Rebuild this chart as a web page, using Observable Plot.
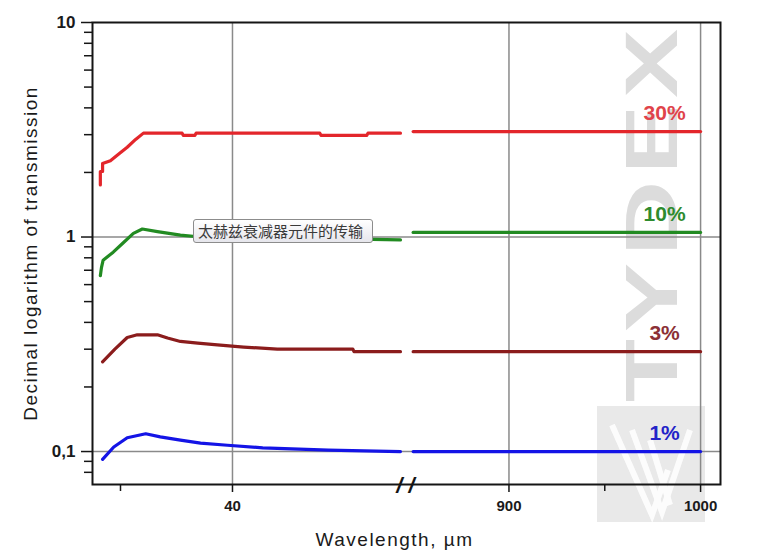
<!DOCTYPE html>
<html>
<head>
<meta charset="utf-8">
<script src="https://cdn.jsdelivr.net/npm/d3@7"></script>
<script src="https://cdn.jsdelivr.net/npm/@observablehq/plot@0.6"></script>
<style>
  html, body { margin: 0; padding: 0; background: #fff; }
  #wrap { position: relative; width: 768px; height: 560px; overflow: hidden; font-family: "Liberation Sans", Arial, sans-serif; }
  #bg { position: absolute; left: 0; top: 0; z-index: 0; }
  #chart { position: absolute; left: 0; top: 0; z-index: 1; }
  #tip { position: absolute; left: 193px; top: 219px; width: 174px; height: 22px; z-index: 2;
         border: 1px solid #8c8c8c; border-radius: 3px; box-sizing: content-box;
         background: linear-gradient(#ffffff, #e6e6ec); color: #3a3a3a;
         font: 15px "Noto Sans CJK SC", sans-serif; line-height: 22px; padding-left: 4px; white-space: nowrap; }
</style>
</head>
<body>
<div id="wrap">
  <svg id="bg" width="768" height="560">
    <rect x="597" y="406" width="108" height="116" fill="#e9e9e9"></rect>
    <g stroke="#ffffff" stroke-width="6" fill="none" opacity="0.9">
      <polyline points="612,425 652,515 668,470"></polyline>
      <polyline points="632,430 662,512 690,430"></polyline>
      <polyline points="650,440 670,505"></polyline>
    </g>
    <g transform="translate(652,212) rotate(-90) scale(1.4,1)">
      <text text-anchor="middle" dominant-baseline="central"
          font-family="Liberation Sans, Arial, sans-serif" font-weight="bold" font-size="74" letter-spacing="5" fill="#dcdcdc">TYDEX</text>
    </g>
  </svg>
  <div id="chart"></div>
  <div id="tip">太赫兹衰减器元件的传输</div>
</div>
<script>
// ---- data (wavelength in µm, decimal logarithm of transmission axis values) ----
const series = ["30%", "10%", "3%", "1%"];
const lineColors = ["#e3262b", "#228b22", "#8b1c1c", "#1414e6"];
const labelColors = ["#e0434a", "#2e8b2e", "#8b3036", "#2323c8"];

const red30Left = [[16.4,1.75],[16.4,2.02],[16.8,2.02],[16.8,2.2],[18.2,2.27],[19.8,2.45],[21.2,2.62],[22.7,2.85],[24.1,3.05],[31.0,3.05],[31.2,2.98],[33.3,2.98],[33.5,3.05],[55.6,3.05],[55.8,2.98],[64.0,2.98],[64.2,3.05],[70.0,3.05]];
const red30Right = [[850,3.1],[1000,3.1]];
const green10Left = [[16.4,0.66],[16.6,0.72],[16.9,0.78],[18.7,0.85],[20.5,0.94],[22.3,1.04],[23.9,1.09],[26.6,1.06],[30.7,1.02],[34.3,1.0],[45.0,0.99],[60.0,0.98],[70.0,0.97]];
const green10Right = [[850,1.05],[1000,1.05]];
const maroon3Left = [[16.8,0.262],[19.0,0.30],[21.2,0.34],[23.0,0.35],[26.6,0.35],[28.4,0.338],[30.7,0.326],[33.8,0.32],[37.3,0.314],[42.0,0.307],[48.0,0.30],[61.5,0.30],[61.7,0.292],[70.0,0.292]];
const maroon3Right = [[850,0.292],[1000,0.292]];
const blue1Left = [[16.8,0.092],[18.8,0.105],[21.2,0.116],[24.5,0.121],[27.1,0.117],[30.7,0.113],[34.3,0.1095],[39.1,0.107],[45.4,0.104],[57.1,0.1016],[70.0,0.1]];
const blue1Right = [[850,0.1],[1000,0.1]];

const segments = [
  ["30%", red30Left], ["30%", red30Right],
  ["10%", green10Left], ["10%", green10Right],
  ["3%", maroon3Left], ["3%", maroon3Right],
  ["1%", blue1Left], ["1%", blue1Right]
];
const labelValues = [3.1, 1.05, 0.292, 0.1];

const yMajorTicks = [0.1, 1, 10];
const yMinorTicks = [0.08, 0.09, 0.2, 0.3, 0.4, 0.5, 0.6, 0.7, 0.8, 0.9, 2, 3, 4, 5, 6, 7, 8, 9];
const xMajorTicks = [40, 900, 1000];
const xMinorTicks = [20, 950];
const xBreak = [70.9, 846];

// ---- build table ----
const rows = [];
segments.forEach(([s, pts], i) => pts.forEach(([w, v]) => rows.push({series: s, seg: i, w, v})));
const labels = series.map((s, i) => ({series: s, w: 1000, v: labelValues[i], color: labelColors[i]}));

const chart = Plot.plot({
  width: 768,
  height: 560,
  marginLeft: 92,
  marginRight: 48,
  marginTop: 22,
  marginBottom: 76,
  style: {background: "transparent", fontFamily: "Liberation Sans, Arial, sans-serif", color: "#1a1a1a"},
  x: {type: "linear", domain: [15, xBreak[0], xBreak[1], 1010.4], range: [92, 405, 405, 720]},
  y: {type: "log", domain: [0.0702, 10]},
  color: {domain: series, range: lineColors},
  marks: [
    Plot.ruleY([1, 0.1], {stroke: "#8a8a8a", strokeWidth: 1.5}),
    Plot.ruleX(xMajorTicks, {stroke: "#8a8a8a", strokeWidth: 1.5}),
    Plot.line(rows, {x: "w", y: "v", z: "seg", stroke: "series", strokeWidth: 3.2}),
    Plot.frame({stroke: "#151515", strokeWidth: 2}),
    Plot.axisY(yMajorTicks, {tickSize: 11, tickPadding: 6, tickFormat: d => d === 0.1 ? "0,1" : String(d), fontSize: 17, fontWeight: "bold", label: null, stroke: "#151515", strokeWidth: 1.5}),
    Plot.axisY(yMinorTicks, {tickSize: 8, tickFormat: () => "", label: null, stroke: "#151515", strokeWidth: 1.5}),
    Plot.axisX(xMajorTicks, {tickSize: 8, tickPadding: 8, tickFormat: d => String(d), fontSize: 15, fontWeight: "bold", label: null, stroke: "#151515", strokeWidth: 1.5}),
    Plot.axisX(xMinorTicks, {tickSize: 7, tickFormat: () => "", label: null, stroke: "#151515", strokeWidth: 1.5}),
    Plot.text([xBreak[0]], {x: d => d, frameAnchor: "bottom", lineAnchor: "middle", text: () => "/ /", fontSize: 22, fontWeight: "bold", fontStyle: "italic", fill: "#151515", dy: 1}),
    Plot.text(labels, {x: "w", y: "v", text: "series", fill: "color", dx: -36, dy: -18, fontSize: 21, fontWeight: "bold", textAnchor: "middle"}),
    Plot.text(["Decimal logarithm of transmission"], {frameAnchor: "left", rotate: -90, dx: -62, fontSize: 19, fill: "#1a1a1a", textAnchor: "middle"}),
    Plot.text(["Wavelength, µm"], {frameAnchor: "bottom", dx: -12, dy: 61, fontSize: 19, fill: "#1a1a1a", textAnchor: "middle"})
  ]
});
chart.querySelectorAll("text").forEach(t => {
  if (t.textContent === "Wavelength, µm") t.setAttribute("letter-spacing", "1.5");
  if (t.textContent === "Decimal logarithm of transmission") t.setAttribute("letter-spacing", "1.5");
});
document.getElementById("chart").appendChild(chart);
</script>
</body>
</html>
